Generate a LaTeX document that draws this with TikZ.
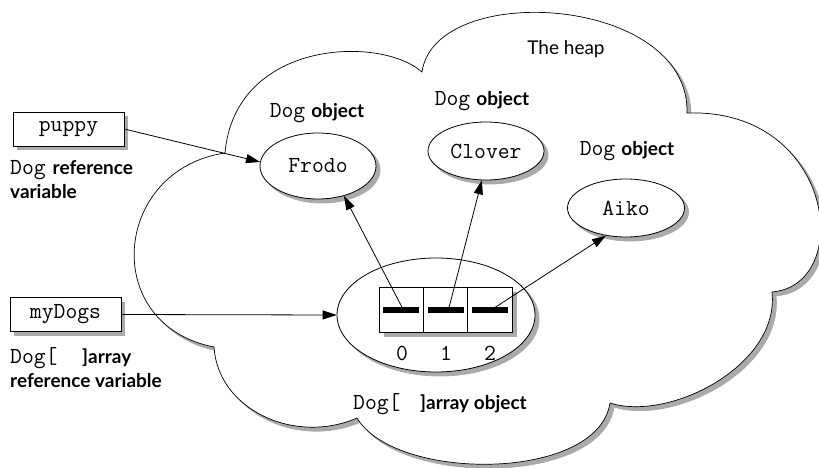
\documentclass[tikz,border=0pt]{standalone}
\usepackage{fontspec}
\newfontfamily\latofam{Lato}
\usetikzlibrary{arrows.meta,shapes.geometric}
\newcommand\mn[1]{{\ttfamily\fontsize{23}{26}\selectfont #1}}
\newcommand\sn[1]{{\latofam\fontsize{19}{23}\selectfont #1}}
\newcommand\myb[1]{{\latofam\bfseries\fontsize{19}{23}\selectfont #1}}
\definecolor{shadowgray}{RGB}{170,170,170}
\tikzset{
  cloudst/.style={draw=black, line width=0.7pt, fill=white},
  cloudsh/.style={fill=shadowgray, draw=shadowgray, line width=0.7pt},
  obj/.style={ellipse, draw, line width=0.8pt, fill=white, inner sep=0pt},
  objsh/.style={ellipse, fill=shadowgray, draw=shadowgray, line width=0.8pt, inner sep=0pt},
  varbox/.style={rectangle, draw, line width=0.8pt, fill=white, minimum width=111pt, minimum height=34pt, inner sep=0pt},
  varboxsh/.style={rectangle, fill=shadowgray, minimum width=111pt, minimum height=34pt, inner sep=0pt},
  cell/.style={rectangle, draw, line width=0.8pt, fill=white, minimum width=44.33pt, minimum height=45pt, inner sep=0pt},
  bar/.style={rectangle, fill=black, minimum width=36pt, minimum height=6pt, inner sep=0pt},
  lbl/.style={inner sep=0pt, anchor=base west},
  clbl/.style={inner sep=0pt, anchor=base},
  arr/.style={line width=0.8pt, -{Triangle[length=14pt,width=9pt]}}
}
\begin{document}
\begin{tikzpicture}[x=1pt,y=-1pt]
\useasboundingbox (0,0) rectangle (819,468);
% the heap cloud: shadow, then outline
\path[cloudsh] (229,157) .. controls (116,174) and (104,329) .. (218,351)
 .. controls (222,414) and (299,449) .. (361,422)
 .. controls (399,486) and (602,486) .. (614,407)
 .. controls (674,426) and (784,369) .. (776,296)
 .. controls (859,289) and (839,112) .. (691,117)
 .. controls (694,-1) and (439,-16) .. (426,76)
 .. controls (384,39) and (239,44) .. (229,157) -- cycle;
\path[cloudst] (225,153) .. controls (112,170) and (100,325) .. (214,347)
 .. controls (218,410) and (295,445) .. (357,418)
 .. controls (395,482) and (598,482) .. (610,403)
 .. controls (670,422) and (780,365) .. (772,292)
 .. controls (855,285) and (835,108) .. (687,113)
 .. controls (690,-5) and (435,-20) .. (422,72)
 .. controls (380,35) and (235,40) .. (225,153) -- cycle;
\node[clbl] (heap) at (566,55) {\sn{The heap}};

% variables
\node[varboxsh] (puppysh) at (72,133) {};
\node[varbox] (puppy) at (68.5,129) {\mn{puppy}};
\node[lbl] (puppylbl1) at (10,175) {\mn{Dog}\hspace{7pt}\myb{reference}};
\node[lbl] (puppylbl2) at (10,198) {\myb{variable}};
\node[varboxsh] (mydogssh) at (69,318.5) {};
\node[varbox] (mydogs) at (65.5,314.5) {\mn{myDogs}};
\node[lbl] (mydogslbl1) at (10,363) {\makebox[72pt][l]{\mn{Dog[}}\myb{]array}};
\node[lbl] (mydogslbl2) at (10,387) {\myb{reference variable}};

% dog objects
\node[clbl] (frodolbl) at (317,118) {\mn{Dog}\hspace{6pt}\myb{object}};
\node[objsh, minimum width=116pt, minimum height=66pt] (frodosh) at (322,170) {};
\node[obj, minimum width=116pt, minimum height=66pt] (frodo) at (318,166) {\mn{Frodo}};
\node[clbl] (cloverlbl) at (482,106) {\mn{Dog}\hspace{6pt}\myb{object}};
\node[objsh, minimum width=116pt, minimum height=58pt] (cloversh) at (490,155) {};
\node[obj, minimum width=116pt, minimum height=58pt] (clover) at (486,151) {\mn{Clover}};
\node[clbl] (aikolbl) at (627,155) {\mn{Dog}\hspace{6pt}\myb{object}};
\node[objsh, minimum width=117pt, minimum height=58pt] (aikosh) at (630,212) {};
\node[obj, minimum width=117pt, minimum height=58pt] (aiko) at (626,208) {\mn{Aiko}};

% array object
\node[objsh, minimum width=198pt, minimum height=114pt] (arrobjsh) at (440,319) {};
\node[obj, minimum width=198pt, minimum height=114pt] (arrobj) at (436,315) {};
\node[lbl] (arrlbl) at (353,409) {\makebox[67pt][l]{\mn{Dog[}}\myb{]array object}};
\node[rectangle, fill=shadowgray, minimum width=133pt, minimum height=45pt, inner sep=0pt] (cellsh) at (450,314.5) {};
\node[cell] (c0) at (401.2,309.5) {};
\node[cell] (c1) at (445.5,309.5) {};
\node[cell] (c2) at (489.8,309.5) {};
\node[clbl] (n0) at (402,360) {\mn{0}};
\node[clbl] (n1) at (446,360) {\mn{1}};
\node[clbl] (n2) at (490,360) {\mn{2}};

% connectors
\draw[arr] (puppy.east) -- (frodo.176);
\draw[arr] (mydogs.east) -- (arrobj.west);
\draw[arr] ([xshift=2pt]c0.center) -- (frodo.-49);
\draw[arr] ([xshift=3pt]c1.center) -- (clover.-98);
\draw[arr] ([xshift=2pt]c2.center) -- (aiko.-126);
\node[bar] (b0) at (c0.center) {};
\node[bar] (b1) at (c1.center) {};
\node[bar] (b2) at (c2.center) {};
\end{tikzpicture}
\end{document}
